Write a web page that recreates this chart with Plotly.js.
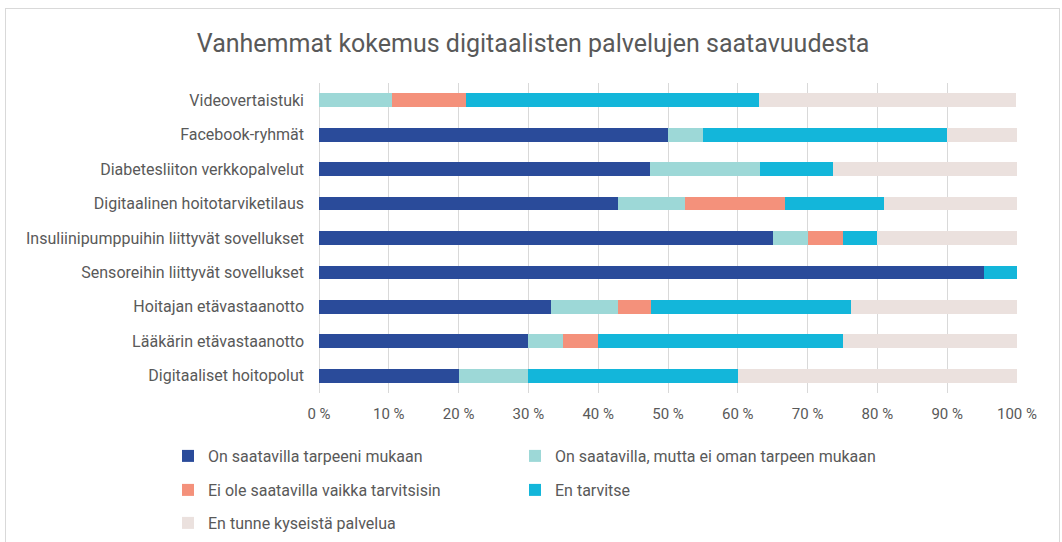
<!DOCTYPE html>
<html>
<head>
<meta charset="utf-8">
<script src="https://cdn.plot.ly/plotly-3.0.1.min.js"></script>
<style>
  html, body { margin: 0; padding: 0; background: #ffffff; }
  #wrap { position: relative; width: 1062px; height: 542px; }
  #chart { width: 1062px; height: 542px; }
  #frame { position: absolute; left: 5px; top: 8px; width: 1055px; height: 540px; border: 1px solid #d9d9d9; pointer-events: none; box-sizing: border-box; }
</style>
</head>
<body>
<div id="wrap"><div id="chart"></div><div id="frame"></div></div>
<script>
// Categories, listed top to bottom as in the chart
const categories = [
  "Videovertaistuki",
  "Facebook-ryhmät",
  "Diabetesliiton verkkopalvelut",
  "Digitaalinen hoitotarviketilaus",
  "Insuliinipumppuihin liittyvät sovellukset",
  "Sensoreihin liittyvät sovellukset",
  "Hoitajan etävastaanotto",
  "Lääkärin etävastaanotto",
  "Digitaaliset hoitopolut"
];

const seriesNames = [
  "On saatavilla tarpeeni mukaan",
  "On saatavilla, mutta ei oman tarpeen mukaan",
  "Ei ole saatavilla vaikka tarvitsisin",
  "En tarvitse",
  "En tunne kyseistä palvelua"
];

// Percent values per series, in category order above
const onSaatavilla      = [0,    50, 47.4, 42.9, 65, 95.2, 33.3, 30, 20];
const eiOmanTarpeen     = [10.5,  5, 15.8,  9.5,  5,  0,    9.5,  5, 10];
const eiOleSaatavilla   = [10.5,  0,  0,   14.3,  5,  0,    4.8,  5,  0];
const enTarvitse        = [42.1, 35, 10.5, 14.3,  5,  4.8, 28.6, 35, 30];
const enTunne           = [36.8, 10, 26.3, 19.0, 20,  0,   23.8, 25, 40];

const tickVals   = [0,10,20,30,40,50,60,70,80,90,100];
const tickLabels = ["0 %","10 %","20 %","30 %","40 %","50 %","60 %","70 %","80 %","90 %","100 %"];

const colors = ["#2a4b9a", "#9dd8d7", "#f4917b", "#13b6da", "#ebe1de"];
const seriesValues = [onSaatavilla, eiOmanTarpeen, eiOleSaatavilla, enTarvitse, enTunne];
const legendIds = ["legend", "legend2", "legend3", "legend4", "legend5"];

const FONT = "Roboto, 'Noto Sans', sans-serif";
const TXT = "#595959";

const traces = seriesValues.map((vals, i) => ({
  type: "bar",
  orientation: "h",
  name: seriesNames[i],
  y: categories,
  x: vals,
  marker: { color: colors[i], line: { width: 0 } },
  legend: legendIds[i],
  hovertemplate: "%{y}: %{x} %<extra>" + seriesNames[i] + "</extra>"
}));

const ML = 319, MR = 45, MT = 83, MB = 149;
const PW = 1062 - ML - MR;
const PH = 542 - MT - MB;
function lx(px) { return (px - ML) / PW; }
function ly(px) { return (542 - MB - px) / PH; }

function mkLegend(xpx, ypx) {
  return {
    orientation: "h",
    traceorder: "normal",
    xref: "paper", yref: "paper",
    xanchor: "left", yanchor: "middle",
    x: lx(xpx), y: ly(ypx),
    font: { family: FONT, size: 16, color: TXT },
    itemwidth: 30,
    bgcolor: "rgba(0,0,0,0)"
  };
}

const layout = {
  width: 1062,
  height: 542,
  margin: { l: ML, r: MR, t: MT, b: MB, autoexpand: false },
  paper_bgcolor: "#ffffff",
  plot_bgcolor: "#ffffff",
  barmode: "stack",
  bargap: 0.6,
  font: { family: FONT, color: TXT },
  title: {
    text: "Vanhemmat kokemus digitaalisten palvelujen saatavuudesta",
    font: { family: FONT, size: 25, color: TXT },
    x: 0.502, xanchor: "center",
    y: 0.921, yanchor: "middle"
  },
  xaxis: {
    range: [0, 100],
    tickvals: tickVals,
    ticktext: tickLabels,
    showgrid: true,
    gridcolor: "#d9d9d9",
    gridwidth: 1,
    zeroline: true,
    zerolinecolor: "#d9d9d9",
    showline: false,
    ticks: "",
    ticklabelstandoff: 10,
    tickfont: { family: FONT, size: 15, color: TXT },
    fixedrange: true
  },
  yaxis: {
    type: "category",
    autorange: "reversed",
    showgrid: false,
    zeroline: false,
    ticks: "",
    ticklabelstandoff: 14,
    tickfont: { family: FONT, size: 16, color: TXT },
    fixedrange: true
  },
  legend:  mkLegend(168, 456),
  legend2: mkLegend(515, 456),
  legend3: mkLegend(168, 490),
  legend4: mkLegend(515, 490),
  legend5: mkLegend(168, 523),
  showlegend: true
};

Plotly.newPlot("chart", traces, layout, { displayModeBar: false, staticPlot: false });
</script>
</body>
</html>
